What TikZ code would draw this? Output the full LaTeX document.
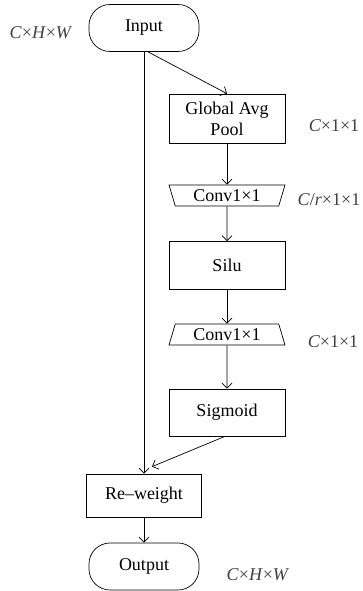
\documentclass[tikz,border=0pt]{standalone}
\usepackage{fontspec}
\setmainfont{Liberation Serif}
\usepackage{tikz}
\usetikzlibrary{positioning,shapes.geometric,arrows.meta}

\begin{document}
\begin{tikzpicture}[node distance=2cm,on grid,
    font=\fontsize{18}{21}\selectfont,
    line width=0.7pt,
    >={Straight Barb[length=5pt,width=10pt]},
    term/.style={draw,rectangle,rounded corners=21pt,minimum width=110pt,minimum height=47pt},
    block/.style={draw,rectangle,minimum width=116pt,minimum height=48pt,align=center},
    conv/.style={draw,trapezium,trapezium angle=66,trapezium stretches body,
                 minimum width=116pt,minimum height=21pt,inner sep=1pt},
    dims/.style={text=black!75,inner sep=0pt}]
     \useasboundingbox (0,0) rectangle (362pt,-591pt);
     \node[term] (inp) at (144pt,-28pt) {Input};
     \node[block,minimum height=49pt] (gap) [below right=90.5pt and 83pt of inp] {Global Avg\\Pool};
     \node[conv,shape border rotate=180] (conv_1) [below=77pt of gap] {Conv1\texttimes 1};
     \node[block] (silu) [below=70pt of conv_1] {Silu};
     \node[conv] (conv_2) [below=69pt of silu] {Conv1\texttimes 1};
     \node[block,minimum height=47pt] (sig) [below=78pt of conv_2] {Sigmoid};
     \node[block,minimum width=115pt,minimum height=43pt] (rw) [below left=83pt and 83pt of sig] {Re--weight};
     \node[term] (out) [below=71pt of rw] {Output};
     % dimension labels
     \node[dims] (d_in)  [below left=5pt and 103pt of inp] {\textit{C}\texttimes\textit{H}\texttimes\textit{W}};
     \node[dims] (d_gap) [below right=7pt and 107pt of gap] {\textit{C}\texttimes 1\texttimes 1};
     \node[dims] (d_c1)  [below right=4pt and 102pt of conv_1] {\textit{C}/\textit{r}\texttimes 1\texttimes 1};
     \node[dims] (d_c2)  [below right=7pt and 106pt of conv_2] {\textit{C}\texttimes 1\texttimes 1};
     \node[dims] (d_out) [below right=8pt and 114pt of out] {\textit{C}\texttimes\textit{H}\texttimes\textit{W}};
     \coordinate (join) at ([xshift=8pt,yshift=7pt]rw.north);
      \draw[->] (inp.south) -- (rw.north);
      \draw[->] ([xshift=4pt]inp.south) -- (gap.north);
      \draw[->] (gap) -- (conv_1);
      \draw[->] (conv_1) -- (silu);
      \draw[->] (silu) -- (conv_2);
      \draw[->] (conv_2) -- (sig);
      \draw[->] ([xshift=-2pt]sig.south) -- (join);
      \draw[->] (rw) -- (out);
    \end{tikzpicture}
\end{document}
